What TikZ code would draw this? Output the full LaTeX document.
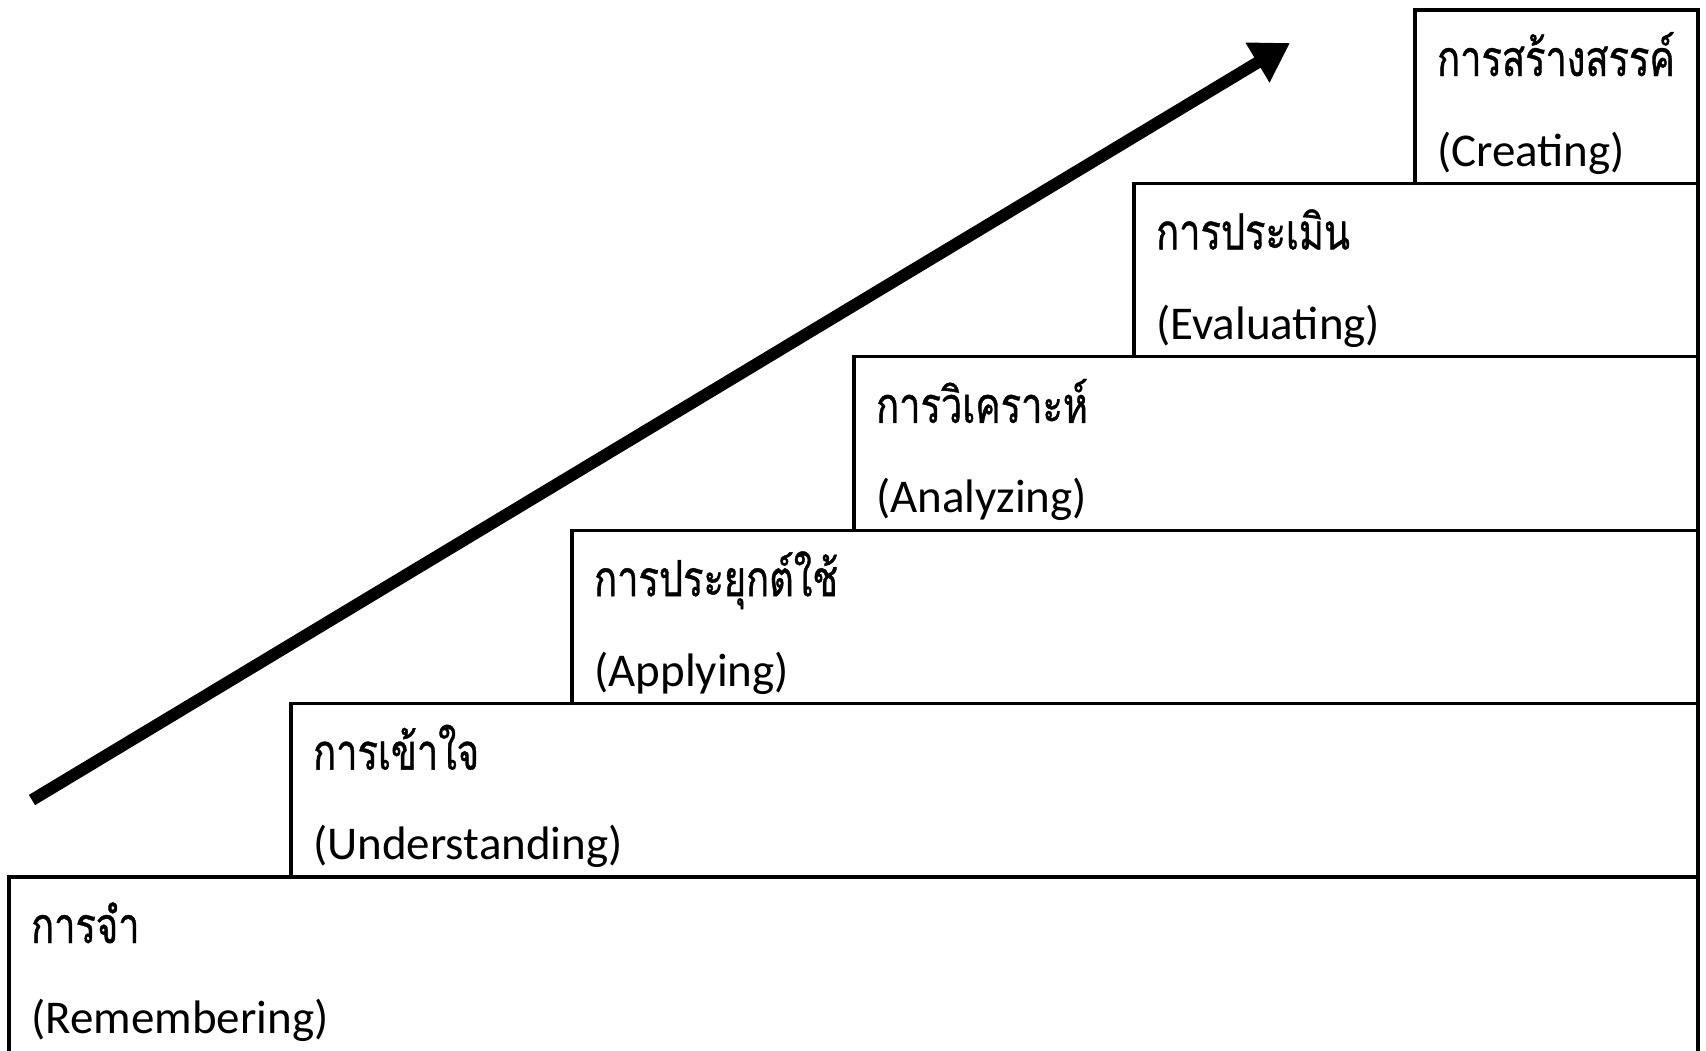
\documentclass[tikz,border=0pt]{standalone}
\usepackage{fontspec}
\setmainfont{Carlito}
\newfontfamily\thaifont[Script=Thai,FakeStretch=0.76,FakeBold=0.8]{Loma}
\usetikzlibrary{arrows.meta}
\tikzset{
  stepline/.style={line width=3.2pt, black},
  thlabel/.style={anchor=base west, inner sep=0pt, font=\thaifont\fontsize{50}{50}\selectfont},
  enlabel/.style={anchor=base west, inner sep=0pt, font=\fontsize{47}{47}\selectfont},
  bigarrow/.style={line width=12pt, -{Triangle[length=38pt,width=44pt]}}
}
\begin{document}
\begin{tikzpicture}[x=1pt,y=-1pt]
\useasboundingbox (0,0) rectangle (1706,1050);
% step outlines
\draw[stepline] (9,1060) -- (9,877) -- (1698,877);
\draw[stepline] (291,877) -- (291,703.6) -- (1698,703.6);
\draw[stepline] (572,703.6) -- (572,530.2) -- (1698,530.2);
\draw[stepline] (854,530.2) -- (854,356.8) -- (1698,356.8);
\draw[stepline] (1134,356.8) -- (1134,183.4) -- (1698,183.4);
\draw[stepline] (1415,183.4) -- (1415,10) -- (1698,10) -- (1698,1060);
% labels
\node[thlabel] (t1) at (31,943) {การจำ};
\node[enlabel] (e1) at (31,1033) {(Remembering)};
\node[thlabel] (t2) at (313,769.6) {การเข้าใจ};
\node[enlabel] (e2) at (313,859.6) {(Understanding)};
\node[thlabel] (t3) at (594,596.2) {การประยุกต์ใช้};
\node[enlabel] (e3) at (594,686.2) {(Applying)};
\node[thlabel] (t4) at (876,422.8) {การวิเคราะห์};
\node[enlabel] (e4) at (876,512.8) {(Analyzing)};
\node[thlabel] (t5) at (1156,249.4) {การประเมิน};
\node[enlabel] (e5) at (1156,339.4) {(Evaluating)};
\node[thlabel] (t6) at (1437,76) {การสร้างสรรค์};
\node[enlabel] (e6) at (1437,166) {(Creating)};
% arrow
\coordinate (a0) at (32,800);
\coordinate (a1) at (1290,43);
\draw[bigarrow] (a0) -- (a1);
\end{tikzpicture}
\end{document}
